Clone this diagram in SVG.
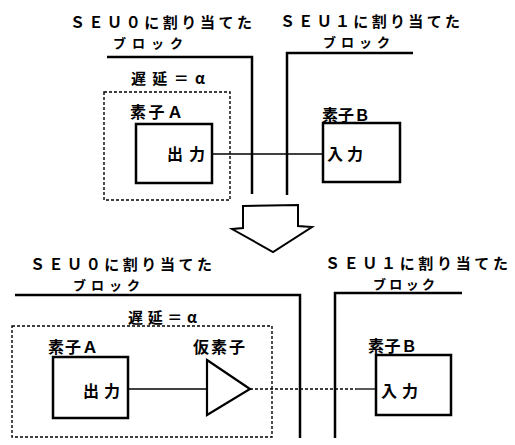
<svg xmlns="http://www.w3.org/2000/svg" width="515" height="445" viewBox="0 0 515 445">
<style>
text{font-family:"Noto Sans CJK JP","Noto Sans",sans-serif;font-weight:bold;fill:#000}
.t{font-size:16px}
.h{font-size:15px}
.b{font-size:13px}
.s{font-size:15px}
.blk{fill:none;stroke:#000;stroke-width:2.5}
.box{fill:#fff;stroke:#000;stroke-width:2.5}
.dash{fill:none;stroke:#000;stroke-width:1.4;stroke-dasharray:3 2}
.wire{fill:none;stroke:#000;stroke-width:1.3}
</style>
<rect width="515" height="445" fill="#fff"/>

<!-- Top section -->
<g id="top-seu0">
<text class="h" x="70" y="28" textLength="182" lengthAdjust="spacing">ＳＥＵ０に割り当てた</text>
<text class="b" x="113" y="48" textLength="70" lengthAdjust="spacing">ブロック</text>
<polyline class="blk" points="107,57 252,57 252,194"/>
</g>
<g id="top-seu1">
<text class="h" x="280" y="27" textLength="180" lengthAdjust="spacing">ＳＥＵ１に割り当てた</text>
<text class="b" x="323" y="47" textLength="67" lengthAdjust="spacing">ブロック</text>
<polyline class="blk" points="413,53 287,53 287,195"/>
</g>
<g id="top-delay">
<text class="s" x="131" y="84" textLength="74" lengthAdjust="spacing">遅延＝α</text>
<rect class="dash" x="104" y="92" width="126" height="108"/>
</g>
<g id="top-elemA">
<text class="t" x="130" y="118" textLength="53" lengthAdjust="spacing">素子Ａ</text>
<rect class="box" x="136" y="124" width="76" height="59"/>
<text class="t" x="167" y="160" textLength="38" lengthAdjust="spacing">出力</text>
</g>
<g id="top-elemB">
<text class="t" x="322" y="121" textLength="48" lengthAdjust="spacing">素子Ｂ</text>
<rect class="box" x="323" y="123" width="77" height="59"/>
<text class="t" x="327" y="160" textLength="36" lengthAdjust="spacing">入力</text>
</g>

<!-- Transition arrow -->
<g id="arrow">
<polygon points="243,206 298,205 298,226 312,227 273,252 232,229 243,228" fill="#fff" stroke="#000" stroke-width="2"/>
</g>

<!-- Bottom section -->
<g id="bot-seu0">
<text class="h" x="30" y="270" textLength="182" lengthAdjust="spacing">ＳＥＵ０に割り当てた</text>
<text class="b" x="73" y="290" textLength="67" lengthAdjust="spacing">ブロック</text>
<polyline class="blk" points="15,295 300,295 300,438"/>
</g>
<g id="bot-seu1">
<text class="h" x="325" y="269" textLength="183" lengthAdjust="spacing">ＳＥＵ１に割り当てた</text>
<text class="b" x="373" y="289" textLength="62" lengthAdjust="spacing">ブロック</text>
<polyline class="blk" points="462,293 335,293 335,438"/>
</g>
<g id="bot-delay">
<text class="s" x="128" y="323" textLength="69" lengthAdjust="spacing">遅延＝α</text>
<rect class="dash" x="12" y="326" width="260" height="111"/>
</g>
<g id="bot-elemA">
<text class="t" x="48" y="353" textLength="50" lengthAdjust="spacing">素子Ａ</text>
<rect class="box" x="53" y="357" width="75" height="61"/>
<text class="t" x="83" y="397" textLength="37" lengthAdjust="spacing">出力</text>
</g>
<g id="bot-dummy">
<text class="t" x="193" y="353" textLength="52" lengthAdjust="spacing">仮素子</text>
<polygon points="207,360 250,389 207,415" fill="#fff" stroke="#000" stroke-width="2.2"/>
</g>
<g id="bot-elemB">
<text class="t" x="368" y="352" textLength="49" lengthAdjust="spacing">素子Ｂ</text>
<rect class="box" x="376" y="355" width="75" height="60"/>
<text class="t" x="381" y="397" textLength="37" lengthAdjust="spacing">入力</text>
</g>

<!-- Connectors -->
<g id="connectors">
<line class="wire" x1="212" y1="154" x2="323" y2="154"/>
<line class="wire" x1="128" y1="389" x2="207" y2="389"/>
<line class="wire" x1="250" y1="389" x2="356" y2="389" stroke-dasharray="3 2"/>
<line class="wire" x1="356" y1="389" x2="376" y2="389"/>
</g>
</svg>
